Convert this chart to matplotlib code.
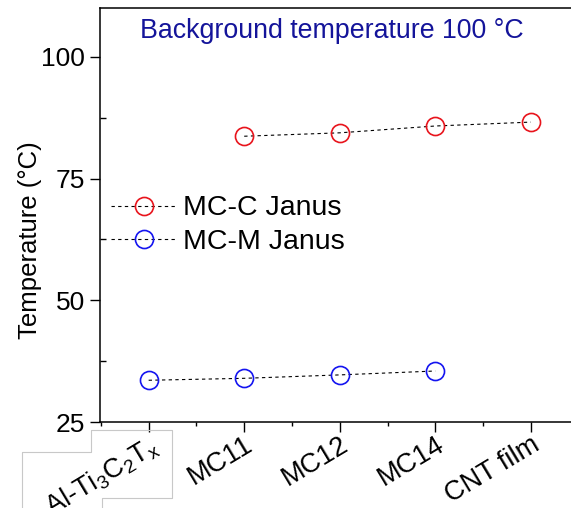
import numpy as np
import matplotlib
matplotlib.use("Agg")
import matplotlib.pyplot as plt
from matplotlib.lines import Line2D
from matplotlib.ticker import MultipleLocator
from matplotlib.transforms import ScaledTranslation

plt.rcParams['font.family'] = ['Liberation Sans', 'DejaVu Sans']
plt.rcParams['mathtext.fontset'] = 'custom'
plt.rcParams['mathtext.rm'] = 'Liberation Sans'
plt.rcParams['mathtext.it'] = 'Liberation Sans:italic'

# Data
samples = ["Al-Ti$_3$C$_2$T$_\\mathrm{x}$", "MC11", "MC12", "MC14", "CNT film"]
mcc_idx = [1, 2, 3, 4]
mcc_temp = [83.7, 84.4, 85.8, 86.6]
mcm_idx = [0, 1, 2, 3]
mcm_temp = [33.6, 34.0, 34.7, 35.5]

fig = plt.figure(figsize=(5.71, 5.08), dpi=100)
ax = fig.add_axes([0.175, 0.169, 0.83, 0.815])

ax.plot(mcc_idx, mcc_temp, linestyle=(0, (3, 3)), color="black", linewidth=0.8,
        marker="o", markersize=13, markerfacecolor="none", markeredgecolor="#e8141c",
        markeredgewidth=1.2, label="MC-C Janus")
ax.plot(mcm_idx, mcm_temp, linestyle=(0, (3, 3)), color="black", linewidth=0.8,
        marker="o", markersize=13, markerfacecolor="none", markeredgecolor="#1414f0",
        markeredgewidth=1.2, label="MC-M Janus")

ax.set_xlim(-0.51, 4.45)
ax.set_ylim(25, 110)
ax.set_xticks(range(len(samples)))
ax.set_xticklabels(samples, rotation=31, ha="right", va="top",
                   rotation_mode="anchor", fontsize=19.5)
# shift labels a little to the right of their ticks
for lab in ax.get_xticklabels():
    lab.set_transform(lab.get_transform() + ScaledTranslation(0.09, 0, fig.dpi_scale_trans))
ax.xaxis.set_minor_locator(MultipleLocator(0.5))
ax.set_yticks([25, 50, 75, 100])
ax.yaxis.set_minor_locator(MultipleLocator(12.5))
ax.tick_params(axis="both", which="major", direction="out", length=7, width=1, labelsize=19)
ax.tick_params(axis="x", which="major", labelsize=19.5, pad=0)
ax.tick_params(axis="y", which="minor", direction="in", length=4, width=1)
ax.tick_params(axis="x", which="minor", direction="out", length=3, width=1)
ax.spines["right"].set_visible(False)
for s in ["left", "bottom", "top"]:
    ax.spines[s].set_linewidth(1.1)

ax.set_ylabel("Temperature (°C)", fontsize=18.5)
ax.yaxis.set_label_coords(-0.122, 0.44)
ax.text(0.49, 0.945, "Background temperature 100 °C", transform=ax.transAxes,
        ha="center", va="center", fontsize=19.3, color="#14149a")

ax.legend(loc="upper left", bbox_to_anchor=(0.0, 0.575), frameon=False, fontsize=20.5,
          handlelength=2.3, handletextpad=0.22, labelspacing=0.25, borderaxespad=0)

# grey outline box around first label
W, H = 571, 508
px = [22, 22, 91, 91, 172, 172, 102, 102]
py = [508, 452, 452, 430, 430, 498, 498, 508]
fig.add_artist(Line2D([x / W for x in px], [1 - y / H for y in py],
                      color="#c8c8c8", linewidth=0.8, transform=fig.transFigure))

fig.savefig("out.png", dpi=100)
